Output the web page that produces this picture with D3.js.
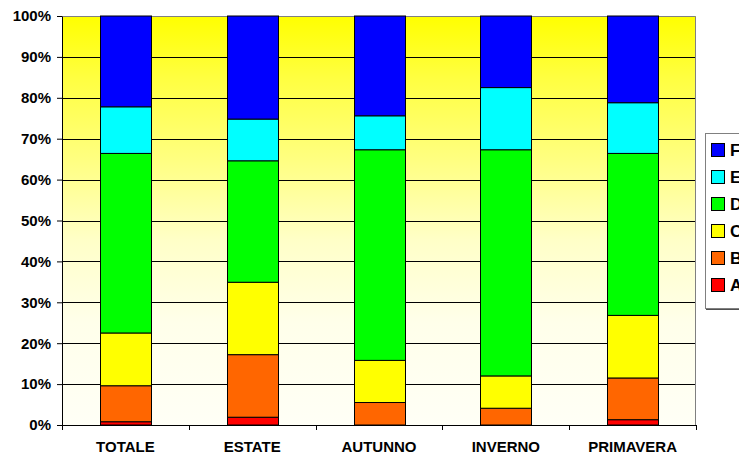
<!DOCTYPE html>
<html>
<head>
<meta charset="utf-8">
<script src="https://cdn.jsdelivr.net/npm/d3@7"></script>
<style>
  body { margin: 0; background: #fff; }
  svg { display: block; }
</style>
</head>
<body>
<svg id="chart"></svg>
<script>
// categorie e serie (percentuali)
const categories = ["TOTALE", "ESTATE", "AUTUNNO", "INVERNO", "PRIMAVERA"];
const seriesNames = ["A", "B", "C", "D", "E", "F"];
const valA = [0.8, 1.9, 0.0, 0.0, 1.3];
const valB = [8.8, 15.3, 5.5, 4.1, 10.2];
const valC = [12.9, 17.7, 10.3, 7.9, 15.3];
const valD = [43.9, 29.7, 51.5, 55.3, 39.6];
const valE = [11.4, 10.2, 8.3, 15.2, 12.4];
const valF = [22.2, 25.2, 24.4, 17.5, 21.2];
const yTicks = [0, 0.1, 0.2, 0.3, 0.4, 0.5, 0.6, 0.7, 0.8, 0.9, 1];

const colors = {
    A: "#FF0000", B: "#FF6600", C: "#FFFF00",
    D: "#00FF00", E: "#00FFFF", F: "#0000FF"
};

const W = 739, H = 455;
const margin = { top: 16, right: 43, bottom: 30, left: 62 };
const width = W - margin.left - margin.right;
const height = H - margin.top - margin.bottom;
const font = "Arial, 'Liberation Sans', sans-serif";

const rows = categories.map((c, i) => ({
    cat: c, A: valA[i], B: valB[i], C: valC[i], D: valD[i], E: valE[i], F: valF[i]
}));

const stacked = d3.stack()
    .keys(seriesNames)
    .offset(d3.stackOffsetExpand)(rows);

const svg = d3.select("#chart").attr("width", W).attr("height", H);

// sfondo sfumato giallo -> bianco
const defs = svg.append("defs");
const grad = defs.append("linearGradient")
    .attr("id", "bg").attr("x1", 0).attr("y1", 0).attr("x2", 0).attr("y2", 1);
[[0, "#FFFF00"], [0.15, "#FFFF40"], [0.35, "#FFFF80"], [0.55, "#FFFFC8"], [0.75, "#FFFFEA"], [1, "#FFFFF6"]]
    .forEach(s => grad.append("stop").attr("offset", s[0]).attr("stop-color", s[1]));

const g = svg.append("g").attr("transform", `translate(${margin.left},${margin.top})`);

const x = d3.scaleBand().domain(categories).range([0, width]).paddingInner(0.6).paddingOuter(0.3);
const xEdge = d3.scaleBand().domain(categories).range([0, width]);
const y = d3.scaleLinear().domain([0, 1]).range([height, 0]);

g.append("rect")
    .attr("width", width).attr("height", height)
    .attr("fill", "url(#bg)");

// griglia
g.append("g")
    .selectAll("line")
    .data(yTicks.slice(1, -1))
    .join("line")
    .attr("x1", 0).attr("x2", width)
    .attr("y1", d => Math.round(y(d)) + 0.5).attr("y2", d => Math.round(y(d)) + 0.5)
    .attr("stroke", "#000").attr("stroke-width", 1);

// bordo superiore/destro
g.append("path")
    .attr("d", `M0,0.5H${width - 0.5}V${height}`)
    .attr("fill", "none").attr("stroke", "#808080");

// barre
g.append("g")
    .selectAll("g")
    .data(stacked)
    .join("g")
    .attr("fill", d => colors[d.key])
    .selectAll("rect")
    .data(d => d)
    .join("rect")
    .attr("x", d => Math.round(x(d.data.cat)) + 0.5)
    .attr("y", d => y(d[1]))
    .attr("width", Math.round(x.bandwidth()))
    .attr("height", d => y(d[0]) - y(d[1]))
    .attr("stroke", "#000").attr("stroke-width", 1);

// asse y
const yAxis = d3.axisLeft(y)
    .tickValues(yTicks)
    .tickFormat(d3.format(".0%"))
    .tickSize(5).tickSizeOuter(0).tickPadding(6);
g.append("g").call(yAxis)
    .call(a => a.select(".domain").attr("stroke", "#000"))
    .call(a => a.selectAll("text")
        .attr("font-family", font)
        .attr("font-weight", "bold").attr("font-size", 15).attr("fill", "#000"));

// asse x
const xAxisG = g.append("g").attr("transform", `translate(0,${height})`);
xAxisG.append("line")
    .attr("x1", 0).attr("x2", width).attr("y1", 0.5).attr("y2", 0.5)
    .attr("stroke", "#000");
xAxisG.selectAll(".tk")
    .data(categories.map(c => xEdge(c)).concat([width]))
    .join("line")
    .attr("class", "tk")
    .attr("x1", d => Math.round(d) + 0.5).attr("x2", d => Math.round(d) + 0.5)
    .attr("y1", 0).attr("y2", 5)
    .attr("stroke", "#000");
xAxisG.selectAll(".lbl")
    .data(categories)
    .join("text")
    .attr("class", "lbl")
    .attr("x", d => x(d) + x.bandwidth() / 2)
    .attr("y", 27)
    .attr("text-anchor", "middle")
    .attr("font-family", font)
    .attr("font-weight", "bold").attr("font-size", 15)
    .text(d => d);

// legenda (tagliata dal bordo destro)
const legend = svg.append("g").attr("transform", "translate(705,133)");
legend.append("rect")
    .attr("x", 0.5).attr("y", 0.5).attr("width", 60).attr("height", 175)
    .attr("fill", "#fff").attr("stroke", "#808080");
legend.append("line")
    .attr("x1", 1).attr("x2", 60).attr("y1", 176.5).attr("y2", 176.5)
    .attr("stroke", "#505050");
const legItems = legend.selectAll(".item")
    .data(seriesNames.slice().reverse())
    .join("g")
    .attr("class", "item")
    .attr("transform", (d, i) => `translate(6,${17 + i * 27})`);
legItems.append("rect")
    .attr("x", 0.5).attr("y", -6.5).attr("width", 13).attr("height", 13)
    .attr("fill", d => colors[d]).attr("stroke", "#000");
legItems.append("text")
    .attr("x", 19).attr("y", 6)
    .attr("font-family", font)
    .attr("font-weight", "bold").attr("font-size", 17)
    .text(d => d);
</script>
</body>
</html>
